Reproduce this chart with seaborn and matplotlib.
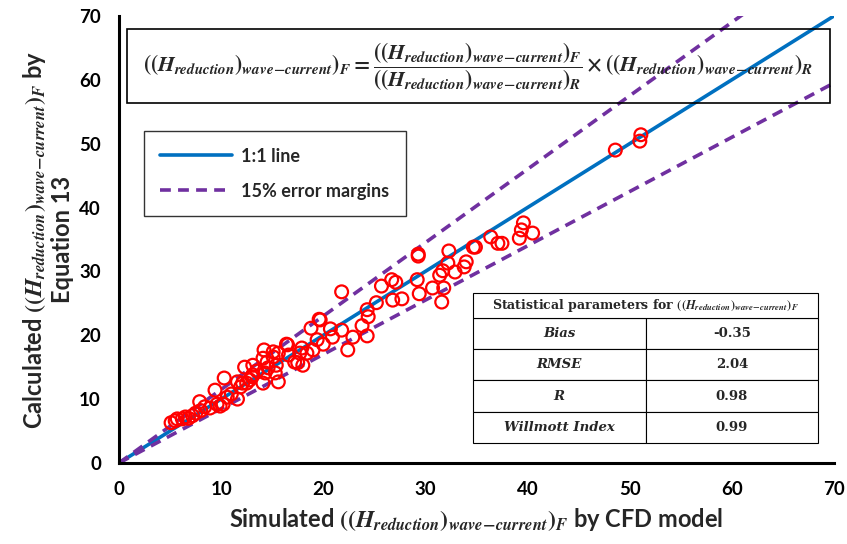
import matplotlib
matplotlib.use("Agg")
import matplotlib.pyplot as plt
import numpy as np
import pandas as pd
import seaborn as sns
from matplotlib.patches import Rectangle

# --- data ---
simulated = [5.1, 5.5, 5.7, 6.2, 6.5, 6.8, 7.2, 7.5, 7.9, 8.0, 8.4, 8.9, 9.4, 9.6, 9.9,
             10.2, 10.3, 10.6, 11.0, 11.6, 11.6, 11.9, 12.1, 12.3, 12.5, 12.8, 13.0, 13.1,
             13.1, 13.5, 14.1, 14.1, 14.2, 14.3, 14.5, 14.6, 15.1, 15.1, 15.3, 15.4, 15.6,
             15.6, 16.4, 16.5, 16.6, 17.2, 17.5, 17.7, 17.9, 18.0, 18.4, 18.8, 19.0, 19.4,
             19.6, 19.7, 20.0, 20.7, 20.9, 21.8, 21.8, 22.4, 22.9, 23.8, 24.3, 24.3, 24.4,
             25.2, 25.7, 26.7, 26.8, 27.1, 27.7, 29.2, 29.3, 29.3, 29.4, 30.7, 31.4, 31.6,
             31.7, 31.8, 32.2, 32.3, 32.9, 33.8, 34.0, 34.7, 34.9, 36.4, 37.1, 37.5, 39.2,
             39.4, 39.6, 40.5, 48.6, 51.0, 51.1]
calculated = [6.3, 6.6, 6.9, 6.9, 7.2, 7.0, 7.4, 7.8, 9.6, 8.2, 8.8, 8.6, 11.4, 9.2, 8.9,
              9.2, 13.3, 10.3, 10.8, 10.0, 12.7, 11.9, 12.5, 15.0, 12.5, 13.0, 13.5, 15.3,
              13.8, 14.4, 12.5, 16.4, 17.7, 14.1, 15.8, 14.9, 16.6, 17.4, 14.1, 15.3, 12.7,
              17.2, 18.6, 18.5, 16.9, 15.8, 15.7, 17.2, 18.0, 15.3, 17.2, 21.1, 17.7, 19.3,
              22.5, 22.4, 18.6, 21.0, 19.7, 20.8, 26.8, 17.7, 19.7, 21.5, 24.0, 19.9, 22.9,
              25.1, 27.7, 28.7, 25.5, 28.3, 25.7, 28.7, 32.7, 32.4, 26.5, 27.4, 29.4, 25.2,
              30.1, 27.4, 31.3, 33.2, 29.9, 30.7, 31.5, 33.8, 33.8, 35.4, 34.4, 34.4, 35.2,
              36.5, 37.6, 36.0, 49.0, 50.4, 51.4]

line_x = [0, 70]
error_margin = 0.15

stat_names = ["Bias", "RMSE", "R", "Willmott Index"]
stat_values = ["-0.35", "2.04", "0.98", "0.99"]

# --- style ---
sns.set_style("white")
plt.rcParams["font.family"] = ["Lato", "DejaVu Sans"]
plt.rcParams["font.weight"] = "bold"
plt.rcParams["mathtext.fontset"] = "stix"

HQ = r"((H_{reduction})_{wave\!-\!current})"

fig = plt.figure(figsize=(8.47, 5.44), dpi=100)
ax = fig.add_axes([0.1405, 0.149, 0.844, 0.8216])

df = pd.DataFrame({"sim": simulated, "calc": calculated})
lines = pd.DataFrame({
    "x": line_x,
    "one": line_x,
    "up": [v * (1 + error_margin) for v in line_x],
    "lo": [v * (1 - error_margin) for v in line_x],
})

sns.lineplot(data=lines, x="x", y="one", ax=ax, color="#0070C0", lw=2.6, label="1:1 line")
sns.lineplot(data=lines, x="x", y="up", ax=ax, color="#7030A0", lw=2.6,
             linestyle=(0, (3, 2)), label="15% error margins")
sns.lineplot(data=lines, x="x", y="lo", ax=ax, color="#7030A0", lw=2.6,
             linestyle=(0, (3, 2)), label="_nolegend_")
sns.scatterplot(data=df, x="sim", y="calc", ax=ax, marker="o", s=85,
                facecolor="none", edgecolor="#FF0000", linewidth=1.6, zorder=5)

ax.set_xlim(0, 70)
ax.set_ylim(0, 70)
ax.set_xticks(range(0, 71, 10))
ax.set_yticks(range(0, 71, 10))
sns.despine(ax=ax)
for s in ["left", "bottom"]:
    ax.spines[s].set_linewidth(2.2)
    ax.spines[s].set_color("black")
ax.tick_params(direction="inout", length=10, width=1.8, labelsize=13.5, pad=8, colors="black")
for lab in ax.get_xticklabels() + ax.get_yticklabels():
    lab.set_fontweight("bold")

ax.set_xlabel(r"Simulated $" + HQ + r"_F$ by CFD model", fontsize=17, fontweight="bold", labelpad=6)
ax.set_ylabel(r"Calculated $" + HQ + r"_F$ by" + "\nEquation 13", fontsize=17,
              fontweight="bold", labelpad=4, linespacing=1.15)

leg = ax.legend(loc="upper left", bbox_to_anchor=(0.022, 0.762), frameon=True,
                fancybox=False, edgecolor="black", fontsize=13, handlelength=4.0,
                borderpad=0.9, labelspacing=1.0, handletextpad=0.5)
leg.get_frame().set_linewidth(1.0)
for t in leg.get_texts():
    t.set_fontweight("bold")

# formula box
ax.add_patch(Rectangle((0.011, 0.806), 0.983, 0.164, transform=ax.transAxes,
                       fill=False, edgecolor="black", lw=1.2, clip_on=False, zorder=6))
formula = (r"$" + HQ + r"_F = \dfrac{" + HQ + r"_F}{" + HQ + r"_R} \times " + HQ + r"_R$")
ax.text(0.502, 0.887, formula, transform=ax.transAxes, ha="center", va="center",
        fontsize=15.5, zorder=7)

# statistics table
cell_text = [[n, v] for n, v in zip(stat_names, stat_values)]
tbl = ax.table(cellText=cell_text, cellLoc="center",
               bbox=[0.495, 0.045, 0.483, 0.279], zorder=8)
tbl.auto_set_font_size(False)
for (r, c), cell in tbl.get_celld().items():
    cell.set_linewidth(0.8)
    cell.set_facecolor("white")
    cell.get_text().set_fontsize(9.5)
    cell.get_text().set_fontfamily(["DejaVu Serif"])
    cell.get_text().set_fontweight("bold")
    if c == 0:
        cell.get_text().set_fontstyle("italic")
hdr = ax.table(cellText=[[r"Statistical parameters for $" + HQ + r"_F$"]], cellLoc="center",
               bbox=[0.495, 0.324, 0.483, 0.056], zorder=8)
hdr.auto_set_font_size(False)
for (r, c), cell in hdr.get_celld().items():
    cell.set_linewidth(0.8)
    cell.set_facecolor("white")
    cell.get_text().set_fontsize(9)
    cell.get_text().set_fontfamily(["DejaVu Serif"])
    cell.get_text().set_fontweight("bold")

fig.savefig("out.png", dpi=100)
